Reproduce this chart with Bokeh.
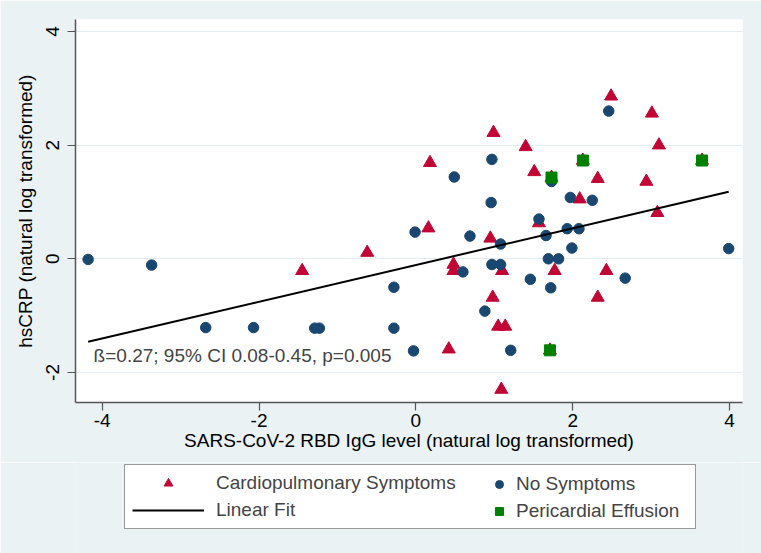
from bokeh.plotting import figure
from bokeh.layouts import column
from bokeh.models import Legend, LegendItem, Label, Range1d, FixedTicker
from bokeh.embed import file_html
from bokeh.resources import INLINE

# ---------------- data ----------------
cardio_x = [-1.45, -0.62, 0.16, 0.18, 0.42, 0.48, 0.48, 0.95, 0.98, 0.99, 1.05,
            1.09, 1.10, 1.14, 1.40, 1.51, 1.57, 1.71, 1.73, 1.77, 2.09, 2.13,
            2.32, 2.32, 2.43, 2.49, 2.94, 3.01, 3.08, 3.10, 3.65]
cardio_y = [-0.21, 0.11, 0.54, 1.69, -1.59, -0.10, -0.21, 0.36, -0.68, 2.22, -1.19,
            -2.30, -0.21, -1.19, 1.97, 1.53, 0.63, -1.61, 1.43, -0.21, 1.05, 1.73,
            1.41, -0.68, -0.21, 2.86, 1.36, 2.56, 0.81, 2.00, 1.73]

none_x = [-4.18, -3.37, -2.68, -2.07, -1.29, -1.23, -0.28, -0.28, -0.03, -0.01,
          0.49, 0.60, 0.69, 0.88, 0.96, 0.97, 0.97, 1.08, 1.08, 1.21, 1.46, 1.57,
          1.66, 1.69, 1.72, 1.73, 1.82, 1.93, 1.97, 1.99, 2.08, 2.25, 2.46, 2.67, 3.99]
none_y = [-0.01, -0.11, -1.21, -1.21, -1.22, -1.22, -0.50, -1.22, -1.62, 0.47,
          1.44, -0.23, 0.40, -0.92, 0.99, 1.75, -0.10, -0.10, 0.26, -1.61, -0.36, 0.70,
          0.41, 0.00, -0.51, 1.36, 0.00, 0.53, 1.08, 0.19, 0.53, 1.03, 2.60, -0.34, 0.18]

perc_x = [1.71, 1.73, 2.13, 3.65]
perc_y = [-1.61, 1.43, 1.73, 1.73]

fit_x = [-4.18, 3.99]
fit_y = [-1.46, 1.18]

x_ticks = [-4, -2, 0, 2, 4]
y_ticks = [-2, 0, 2, 4]
x_tick_labels = {-4: "-4", -2: "-2", 0: "0", 2: "2", 4: "4"}
y_tick_labels = {-2: "-2", 0: "0", 2: "2", 4: "4"}

x_title = "SARS-CoV-2 RBD IgG level (natural log transformed)"
y_title = "hsCRP (natural log transformed)"
stat_text = "ß=0.27; 95% CI 0.08-0.45, p=0.005"
labels = ["Cardiopulmonary Symptoms", "No Symptoms", "Linear Fit", "Pericardial Effusion"]

# ---------------- style ----------------
BG = "#EAF2F3"
GRID = "#E2ECEF"
RED = "#C10534"
NAVY = "#1A476F"
GREEN = "#008000"
AXIS = "#555555"
FONT = "Liberation Sans"
FS = "19px"
W = 761
H_TOP = 462
H_LEG = 553 - H_TOP
NAN = float("nan")

p = figure(width=W, height=H_TOP, output_backend="svg", toolbar_location=None,
           x_range=Range1d(-4.341, 4.166), y_range=Range1d(-2.528, 4.211),
           min_border_left=75, min_border_right=19, min_border_top=19,
           min_border_bottom=H_TOP - 402, background_fill_color="white",
           border_fill_color=BG, outline_line_color=None)

r_tri = p.scatter(cardio_x, cardio_y, marker="triangle", size=13,
                  fill_color=RED, line_color=RED)
r_circ = p.scatter(none_x, none_y, marker="circle", size=10.5,
                   fill_color=NAVY, line_color=NAVY)
r_fit = p.line(fit_x, fit_y, line_color="black", line_width=2)
r_sq = p.scatter(perc_x, perc_y, marker="square", size=11,
                 fill_color=GREEN, line_color=GREEN)

# axes
for ax in (p.xaxis[0], p.yaxis[0]):
    ax.axis_line_color = AXIS
    ax.axis_line_width = 1.5
    ax.major_tick_line_color = AXIS
    ax.major_tick_line_width = 1.2
    ax.major_tick_out = 8
    ax.major_tick_in = 0
    ax.minor_tick_line_color = None
    ax.major_label_text_font = FONT
    ax.major_label_text_font_size = FS
    ax.major_label_text_color = "black"
    ax.axis_label_text_font = FONT
    ax.axis_label_text_font_size = FS
    ax.axis_label_text_font_style = "normal"
    ax.axis_label_text_color = "black"

p.xaxis.ticker = FixedTicker(ticks=x_ticks)
p.yaxis.ticker = FixedTicker(ticks=y_ticks)
p.xaxis.major_label_overrides = x_tick_labels
p.yaxis.major_label_overrides = y_tick_labels
p.xaxis.axis_label = x_title
p.yaxis.axis_label = y_title
p.xaxis.major_label_standoff = 3
p.xaxis.axis_label_standoff = 0
p.yaxis.major_label_standoff = 8
p.yaxis.axis_label_standoff = 8
p.yaxis.major_label_orientation = "vertical"

p.xgrid.visible = False
p.ygrid.grid_line_color = GRID
p.ygrid.grid_line_width = 1

# annotation
p.add_layout(Label(x=-4.11, y=-1.70, text=stat_text, text_font=FONT,
                   text_font_size=FS, text_baseline="middle", text_align="left"))

# ---------------- legend strip ----------------
q = figure(width=W, height=H_LEG, output_backend="svg", toolbar_location=None,
           x_axis_location=None, y_axis_location=None,
           x_range=Range1d(0, 1), y_range=Range1d(0, 1),
           min_border_left=75, min_border_right=19, min_border_top=0,
           min_border_bottom=0, background_fill_color=BG,
           border_fill_color=BG, outline_line_color=None)
q.grid.visible = False

k_tri = q.scatter([NAN], [NAN], marker="triangle", size=13, fill_color=RED, line_color=RED)
k_circ = q.scatter([NAN], [NAN], marker="circle", size=10.5, fill_color=NAVY, line_color=NAVY)
k_fit = q.line([NAN, NAN], [NAN, NAN], line_color="black", line_width=2)
k_sq = q.scatter([NAN], [NAN], marker="square", size=11, fill_color=GREEN, line_color=GREEN)

LEG_Y = 553 - 529
leg1 = Legend(items=[LegendItem(label=labels[0], renderers=[k_tri]),
                     LegendItem(label=labels[2], renderers=[k_fit])],
              location=(124 - 75, LEG_Y), orientation="vertical",
              glyph_width=72, glyph_height=22, label_height=22, label_width=472,
              label_standoff=12, spacing=5, padding=7, margin=0,
              border_line_color="#333333", border_line_width=1,
              background_fill_color="white", background_fill_alpha=1.0,
              label_text_font=FONT, label_text_font_size=FS)
leg2 = Legend(items=[LegendItem(label=labels[1], renderers=[k_circ]),
                     LegendItem(label=labels[3], renderers=[k_sq])],
              location=(482 - 75, LEG_Y), orientation="vertical",
              glyph_width=20, glyph_height=22, label_height=22, label_width=170,
              label_standoff=7, spacing=5, padding=7, margin=0,
              border_line_color="white", border_line_alpha=0.0,
              background_fill_alpha=0.0,
              label_text_font=FONT, label_text_font_size=FS)
q.add_layout(leg1)
q.add_layout(leg2)

layout = column(p, q, spacing=0)
open("out.html", "w").write(file_html(layout, INLINE))
